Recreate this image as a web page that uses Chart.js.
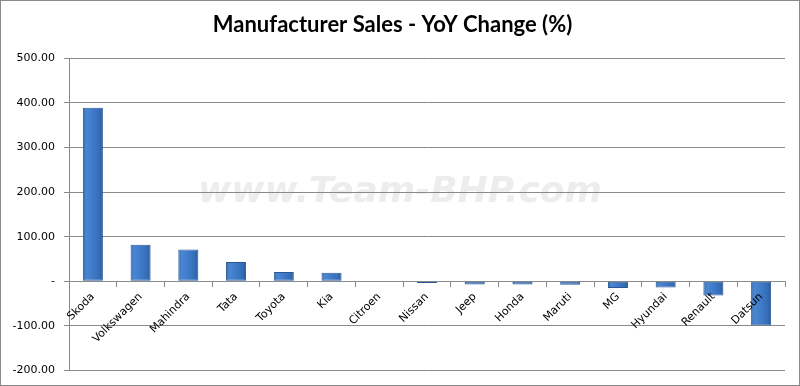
<!DOCTYPE html>
<html>
<head>
<meta charset="utf-8">
<script src="https://cdn.jsdelivr.net/npm/chart.js@4/dist/chart.umd.min.js"></script>
<style>
  html, body { margin: 0; padding: 0; background: #fff; }
  #wrap { width: 800px; height: 386px; position: relative; }
</style>
</head>
<body>
<div id="wrap"><canvas id="myChart" width="800" height="386"></canvas></div>
<script>
const manufacturers = ['Skoda', 'Volkswagen', 'Mahindra', 'Tata', 'Toyota', 'Kia', 'Citroen',
  'Nissan', 'Jeep', 'Honda', 'Maruti', 'MG', 'Hyundai', 'Renault', 'Datsun']
const yoyChange = [389, 82, 71, 43, 21, 19, -1, -4, -7, -7, -8, -15, -14, -32, -99]
const yMin = -200
const yMax = 500
const yStep = 100

const barPct = 0.42

// excel style bevelled bar fill
const barFill = function (c) {
  const chart = c.chart
  const xs = chart.scales.x
  if (!xs || !chart.chartArea) return '#3c75bd'
  const cx = xs.getPixelForValue(c.dataIndex)
  const w = (chart.chartArea.width / manufacturers.length) * barPct
  const g = chart.ctx.createLinearGradient(cx - w / 2, 0, cx + w / 2, 0)
  g.addColorStop(0, '#2d5fa3')
  g.addColorStop(0.15, '#4a86d2')
  g.addColorStop(0.5, '#3f7bc8')
  g.addColorStop(0.85, '#336cb5')
  g.addColorStop(1, '#244f8c')
  return g
}

const frame = {
  id: 'frame',
  beforeDraw(chart) {
    const { ctx } = chart
    ctx.save()
    ctx.font = 'italic bold 36px "DejaVu Sans"'
    ctx.textAlign = 'center'
    ctx.textBaseline = 'middle'
    ctx.fillStyle = 'rgba(215,215,215,0.45)'
    ctx.fillText('www.Team-BHP.com', 400, 193)
    ctx.restore()
  },
  afterDraw(chart) {
    const { ctx } = chart
    ctx.save()
    ctx.strokeStyle = '#8a8a8a'
    ctx.lineWidth = 1
    ctx.strokeRect(0.5, 0.5, chart.width - 1, chart.height - 1)
    ctx.restore()
  },
}

new Chart(document.getElementById('myChart'), {
  type: 'bar',
  data: {
    labels: manufacturers,
    datasets: [
      {
        label: 'YoY Change (%)',
        data: yoyChange,
        backgroundColor: barFill,
        borderColor: '#2a5894',
        borderWidth: 1,
        borderSkipped: false,
        categoryPercentage: 1,
        barPercentage: barPct,
      },
    ],
  },
  options: {
    responsive: false,
    animation: false,
    layout: { padding: { top: 0, right: 15, bottom: 15, left: 0 } },
    plugins: {
      legend: { display: false },
      tooltip: { enabled: false },
      title: {
        display: true,
        text: 'Manufacturer Sales - YoY Change (%)',
        color: '#000',
        font: { family: 'Lato', size: 22, weight: 'bold' },
        padding: { top: 12, bottom: 20 },
      },
    },
    scales: {
      x: {
        position: { y: 0 },
        grid: {
          offset: true,
          drawOnChartArea: false,
          drawTicks: true,
          tickLength: 5,
          color: '#8a8a8a',
        },
        border: { display: true, color: '#8a8a8a' },
        ticks: {
          z: 1,
          autoSkip: false,
          maxRotation: 45,
          minRotation: 45,
          padding: 4,
          color: '#000',
          font: { family: 'DejaVu Sans', size: 11 },
        },
      },
      y: {
        min: yMin,
        max: yMax,
        afterFit: (scale) => { scale.width = 69 },
        grid: { color: '#8a8a8a', tickLength: 5 },
        border: { display: true, color: '#8a8a8a' },
        ticks: {
          stepSize: yStep,
          padding: 9,
          color: '#000',
          font: { family: 'DejaVu Sans', size: 11 },
          callback: (v) => (v === 0 ? '-' : v.toFixed(2)),
        },
      },
    },
  },
  plugins: [frame],
})
</script>
</body>
</html>
